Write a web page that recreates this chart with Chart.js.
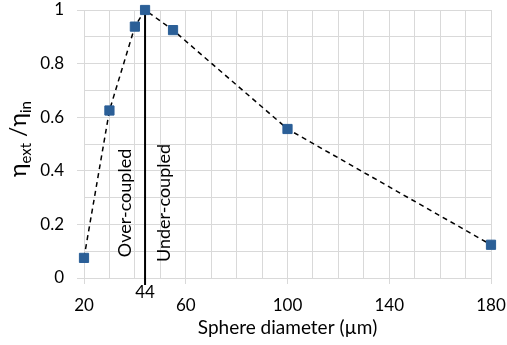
<!DOCTYPE html>
<html><head><meta charset="utf-8">
<script src="https://cdn.jsdelivr.net/npm/chart.js@4.4.1/dist/chart.umd.min.js"></script>
<style>html,body{margin:0;padding:0;background:#fff}#wrap{width:507px;height:345px}</style>
</head><body><div id="wrap"><canvas id="c" width="507" height="345"></canvas></div>
<script>
const diameters = [20, 30, 40, 44, 55, 100, 180];
const efficiency = [0.075, 0.625, 0.938, 1.0, 0.925, 0.556, 0.124];
const criticalDiameter = 44;
const xTickLabels = [20, 60, 100, 140, 180];
const yTickLabels = [0, 0.2, 0.4, 0.6, 0.8, 1];
const xTitle = 'Sphere diameter (µm)';
const leftRegionLabel = 'Over-coupled';
const rightRegionLabel = 'Under-coupled';

const FONT = 'Lato, "Liberation Sans", sans-serif';
const GRID = '#d9d9d9';

const points = diameters.map((d, i) => ({x: d, y: efficiency[i]}));

const overlay = {
  id: 'overlay',
  beforeDatasetsDraw(chart) {
    const {ctx, scales: {x, y}} = chart;
    const px = x.getPixelForValue(criticalDiameter);
    ctx.save();
    ctx.strokeStyle = '#000';
    ctx.lineWidth = 2;
    ctx.beginPath();
    ctx.moveTo(px, y.getPixelForValue(1));
    ctx.lineTo(px, y.getPixelForValue(0) + 7);
    ctx.stroke();
    ctx.fillStyle = '#000';
    ctx.font = '18px ' + FONT;
    ctx.textAlign = 'center';
    ctx.textBaseline = 'middle';
    const cy = y.getPixelForValue(0.28);
    ctx.save(); ctx.translate(px - 20, cy); ctx.rotate(-Math.PI / 2);
    ctx.fillText(leftRegionLabel, 0, 0); ctx.restore();
    ctx.save(); ctx.translate(px + 19, cy); ctx.rotate(-Math.PI / 2);
    ctx.fillText(rightRegionLabel, 0, 0); ctx.restore();
    ctx.restore();
  },
  afterDraw(chart) {
    const {ctx, scales: {x, y}, chartArea} = chart;
    ctx.save();
    ctx.fillStyle = '#000';
    ctx.font = '17px ' + FONT;
    ctx.textAlign = 'center';
    ctx.textBaseline = 'middle';
    ctx.fillText(String(criticalDiameter), x.getPixelForValue(criticalDiameter), chartArea.bottom + 15);
    ctx.font = '19px ' + FONT;
    ctx.fillText(xTitle, (chartArea.left + chartArea.right) / 2, chartArea.bottom + 50);
    // y title with subscripts
    ctx.translate(26, 139);
    ctx.rotate(-Math.PI / 2);
    ctx.textAlign = 'left';
    ctx.textBaseline = 'alphabetic';
    const parts = [['η', 23, 0], ['ext', 15, 5], [' /', 23, 0], ['η', 23, 0], ['in', 15, 5]];
    let total = 0;
    parts.forEach(p => { ctx.font = p[1] + 'px ' + FONT; total += ctx.measureText(p[0]).width; });
    let cx = -total / 2;
    parts.forEach(p => { ctx.font = p[1] + 'px ' + FONT; ctx.fillText(p[0], cx, p[2]); cx += ctx.measureText(p[0]).width; });
    ctx.restore();
  }
};

new Chart(document.getElementById('c'), {
  type: 'scatter',
  data: {
    datasets: [{
      data: points,
      showLine: true,
      clip: false,
      borderColor: '#000',
      borderWidth: 1.5,
      borderDash: [5, 4],
      pointStyle: 'rect',
      pointRadius: 6.5,
      pointBackgroundColor: '#2b5f97',
      pointBorderColor: '#2b5f97',
      pointBorderWidth: 1
    }]
  },
  options: {
    responsive: false,
    animation: false,
    layout: {padding: {top: 10, right: 16, left: 0, bottom: 0}},
    plugins: {legend: {display: false}, tooltip: {enabled: false}},
    scales: {
      x: {
        type: 'linear', min: 20, max: 180,
        afterFit: s => { s.height = 67; s.paddingLeft = 0; s.paddingRight = 0; },
        grid: {color: GRID, tickLength: 6,
          tickColor: c => xTickLabels.includes(c.tick && c.tick.value) ? GRID : 'rgba(0,0,0,0)'},
        border: {color: GRID},
        ticks: {stepSize: 10, autoSkip: false, maxRotation: 0, padding: 11, color: '#000',
          font: {family: FONT, size: 17},
          callback: v => xTickLabels.includes(v) ? String(v) : ''}
      },
      y: {
        min: 0, max: 1,
        afterFit: s => { s.width = 84; s.paddingTop = 0; s.paddingBottom = 0; },
        grid: {color: GRID, tickLength: 7,
          tickColor: c => yTickLabels.some(t => Math.abs(t - (c.tick ? c.tick.value : -1)) < 1e-6) ? GRID : 'rgba(0,0,0,0)'},
        border: {color: GRID},
        ticks: {stepSize: 0.1, autoSkip: false, padding: 13, color: '#000',
          font: {family: FONT, size: 17},
          callback: v => { const t = yTickLabels.find(t => Math.abs(t - v) < 1e-6); return t === undefined ? '' : String(t); }}
      }
    }
  },
  plugins: [overlay]
});
</script></body></html>
